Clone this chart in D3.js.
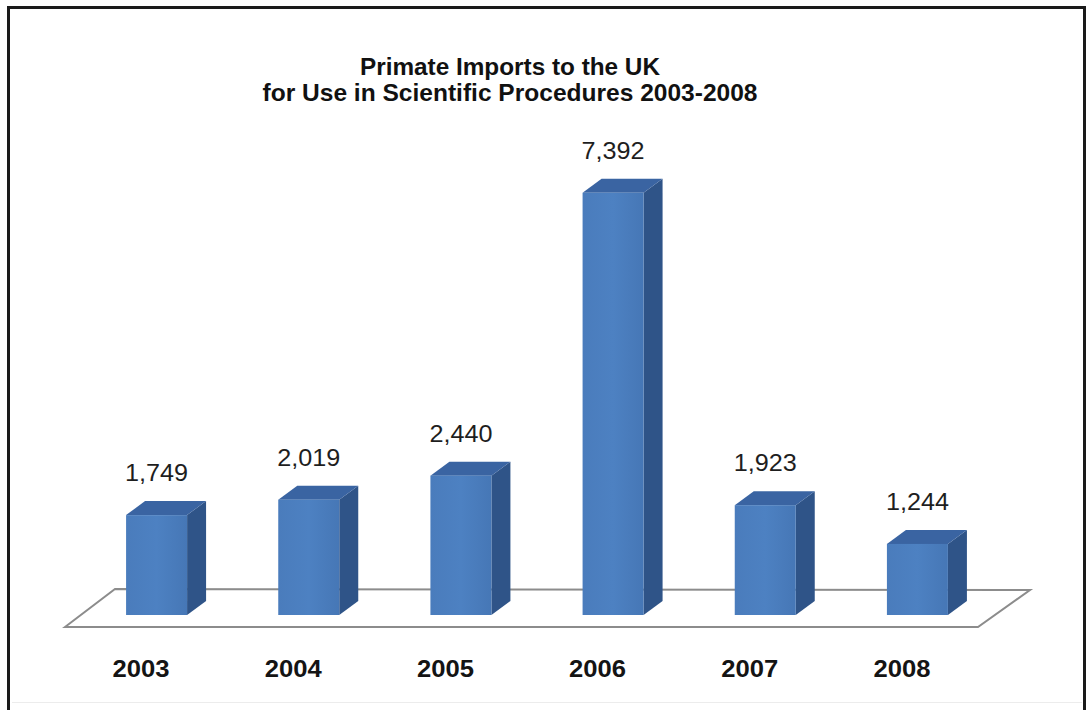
<!DOCTYPE html>
<html>
<head>
<meta charset="utf-8">
<script src="https://cdn.jsdelivr.net/npm/d3@7"></script>
<style>
  html, body { margin: 0; padding: 0; background: #fff; }
  svg { display: block; }
</style>
</head>
<body>
<svg id="chart" width="1091" height="710"></svg>
<script>
// Primate imports by year
const years = ["2003", "2004", "2005", "2006", "2007", "2008"];
const imports = [1749, 2019, 2440, 7392, 1923, 1244];
const titleLines = ["Primate Imports to the UK", "for Use in Scientific Procedures 2003-2008"];

const svg = d3.select("#chart");

// outer frame (bottom edge runs off the page)
svg.append("rect")
  .attr("x", 8.5).attr("y", 7.5)
  .attr("width", 1076).attr("height", 720)
  .attr("fill", "#fff").attr("stroke", "#1a1a1a").attr("stroke-width", 3);

svg.append("line")
  .attr("x1", 12).attr("x2", 1082).attr("y1", 702.5).attr("y2", 702.5)
  .attr("stroke", "#ececec").attr("stroke-width", 1);

// title
const title = svg.append("text")
  .attr("text-anchor", "middle")
  .attr("font-family", "Liberation Sans, Arial, sans-serif")
  .attr("font-weight", "bold")
  .attr("font-size", 24)
  .attr("fill", "#111");
title.selectAll("tspan").data(titleLines).join("tspan")
  .attr("x", 510)
  .attr("y", (d, i) => 75 + i * 26)
  .attr("textLength", (d, i) => i === 0 ? 300 : 495)
  .attr("lengthAdjust", "spacingAndGlyphs")
  .text(d => d);

// 3-D geometry: floor slab in perspective, bars set half-way into its depth
const floorFrontY = 627, floorFrontX0 = 65, floorFrontX1 = 978;
const floorDX = 50, floorDY = -38;
const barDX = 19, barDY = -14;

// category slots along the floor's front edge
const xFront = d3.scaleBand().domain(years).range([floorFrontX0, floorFrontX1]);

// bar base shifted back into the floor so that bars sit mid-depth
const baseShiftX = (floorDX - barDX) / 2;
const baseY = 615;
const y = d3.scaleLinear().domain([0, 8000]).range([baseY, baseY - 8000 * 0.05712]);
const barW = 61;

// floor
const floorPts = [
  [floorFrontX0, floorFrontY],
  [floorFrontX0 + floorDX, floorFrontY + floorDY],
  [floorFrontX1 + floorDX + 2, floorFrontY + floorDY + 1],
  [floorFrontX1, floorFrontY]
];
svg.append("path")
  .attr("d", d3.line()(floorPts) + "Z")
  .attr("fill", "#fff")
  .attr("stroke", "#8c8c8c")
  .attr("stroke-width", 2)
  .attr("stroke-linejoin", "miter");

const data = years.map((yr, i) => ({ year: yr, value: imports[i] }));

const barCx = d => xFront(d.year) + xFront.bandwidth() / 2 + baseShiftX;

const bars = svg.append("g").selectAll("g").data(data).join("g");

// right side face
bars.append("path")
  .attr("fill", "#2f5488")
  .attr("d", d => {
    const x1 = barCx(d) + barW / 2, yt = y(d.value), yb = y(0);
    return `M${x1},${yb}L${x1},${yt}L${x1 + barDX},${yt + barDY}L${x1 + barDX},${yb + barDY}Z`;
  });

// top face
bars.append("path")
  .attr("fill", "#3a64a2")
  .attr("d", d => {
    const x0 = barCx(d) - barW / 2, x1 = barCx(d) + barW / 2, yt = y(d.value);
    return `M${x0},${yt}L${x0 + barDX},${yt + barDY}L${x1 + barDX},${yt + barDY}L${x1},${yt}Z`;
  });

// front face with a soft horizontal gradient
const defs = svg.append("defs");
const grad = defs.append("linearGradient").attr("id", "frontGrad")
  .attr("x1", "0").attr("x2", "1").attr("y1", "0").attr("y2", "0");
grad.append("stop").attr("offset", "0").attr("stop-color", "#4a7cbc");
grad.append("stop").attr("offset", "0.5").attr("stop-color", "#4d81c2");
grad.append("stop").attr("offset", "1").attr("stop-color", "#4677b6");

bars.append("rect")
  .attr("fill", "url(#frontGrad)")
  .attr("x", d => barCx(d) - barW / 2)
  .attr("y", d => y(d.value))
  .attr("width", barW)
  .attr("height", d => y(0) - y(d.value));

// value labels
const fmt = d3.format(",");
bars.append("text")
  .attr("x", d => barCx(d))
  .attr("y", d => y(d.value) + barDY - 20)
  .attr("text-anchor", "middle")
  .attr("font-family", "Liberation Sans, Arial, sans-serif")
  .attr("font-size", 23)
  .attr("fill", "#1e1e1e")
  .attr("textLength", 63)
  .attr("lengthAdjust", "spacingAndGlyphs")
  .text(d => fmt(d.value));

// category axis labels under the floor
svg.append("g").selectAll("text").data(years).join("text")
  .attr("x", d => xFront(d) + xFront.bandwidth() / 2)
  .attr("y", 677)
  .attr("text-anchor", "middle")
  .attr("font-family", "Liberation Sans, Arial, sans-serif")
  .attr("font-weight", "bold")
  .attr("font-size", 23.5)
  .attr("fill", "#141414")
  .attr("textLength", 57)
  .attr("lengthAdjust", "spacingAndGlyphs")
  .text(d => d);
</script>
</body>
</html>
